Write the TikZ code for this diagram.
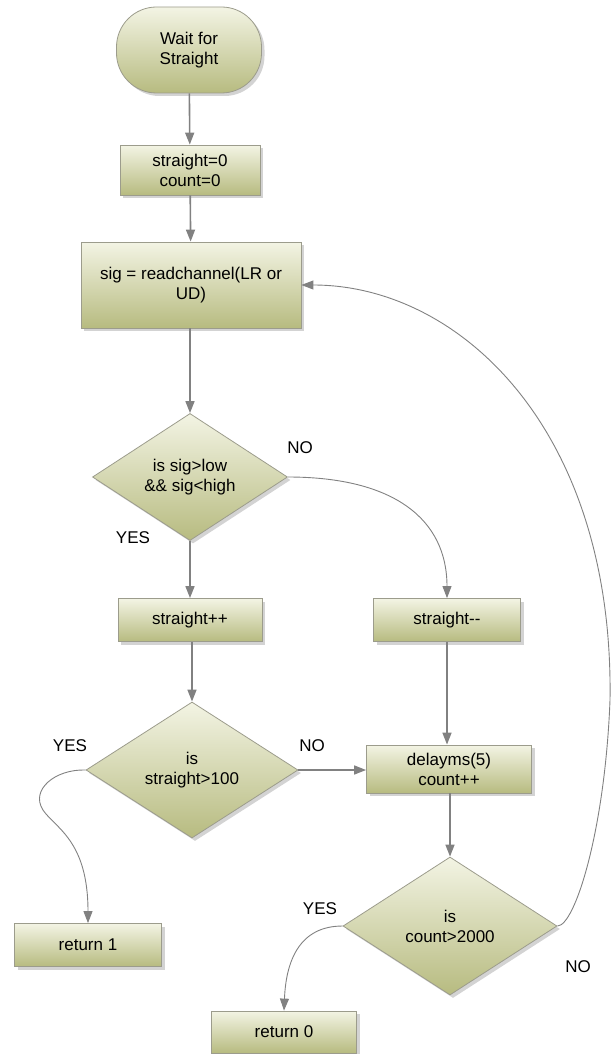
\documentclass[tikz,border=0pt]{standalone}
\usepackage{fontspec}
\setmainfont{Liberation Sans}
\usetikzlibrary{shapes.geometric,shadows,arrows.meta}
\definecolor{fillTop}{HTML}{F3F4E4}
\definecolor{fillBot}{HTML}{B7BB80}
\definecolor{edgeC}{HTML}{9C9C8C}
\definecolor{lineC}{HTML}{818181}
\begin{document}
\begin{tikzpicture}[x=1pt,y=-1pt,
  base/.style={draw=edgeC, line width=0.8pt, top color=fillTop, bottom color=fillBot,
    drop shadow={opacity=0.35, shadow xshift=3pt, shadow yshift=-3pt},
    font=\fontsize{17}{20}\selectfont, align=center, inner sep=2pt},
  proc/.style={base, rectangle},
  term/.style={base, rectangle, rounded corners=40pt},
  decis/.style={base, diamond, inner sep=0pt},
  lbl/.style={font=\fontsize{17}{20}\selectfont},
  flow/.style={draw=lineC, line width=1.6pt, -{Triangle[length=12pt,width=9pt]}},
  curv/.style={draw=lineC, line width=0.9pt, -{Triangle[length=12pt,width=9pt]}}
]
\useasboundingbox (0,0) rectangle (613,1054);

\node[term, minimum width=145pt, minimum height=86pt] (start) at (189,50) {Wait for\\Straight};
\node[proc, minimum width=140pt, minimum height=50pt] (init) at (190,170) {straight=0\\count=0};
\node[proc, minimum width=220pt, minimum height=86pt] (read) at (191,285) {sig = readchannel(LR or\\UD)};
\node[decis, minimum width=195pt, minimum height=115pt] (dia1) at (190,477) {is sig>low\\\&\& sig<high};
\node[proc, minimum width=144pt, minimum height=43pt] (inc) at (190,620) {straight++};
\node[proc, minimum width=147pt, minimum height=43pt] (dec) at (447,620) {straight-{}-};
\node[decis, minimum width=212pt, minimum height=136pt] (dia2) at (192,770) {is\\straight>100};
\node[proc, minimum width=165pt, minimum height=48pt] (delay) at (449,769) {delayms(5)\\count++};
\node[decis, minimum width=214pt, minimum height=138pt] (dia3) at (450,926) {is\\count>2000};
\node[proc, minimum width=147pt, minimum height=43pt] (ret1) at (88,945) {return 1};
\node[proc, minimum width=145pt, minimum height=42pt] (ret0) at (284,1032) {return 0};

\node[lbl] (no1) at (300,448) {NO};
\node[lbl] (yes1) at (133,538) {YES};
\node[lbl] (yes2) at (70,746) {YES};
\node[lbl] (no2) at (312,746) {NO};
\node[lbl] (yes3) at (320,909) {YES};
\node[lbl] (no3) at (578,967) {NO};

\draw[flow] (start) -- (init);
\draw[flow] (init) -- (read);
\draw[flow] (read.south -| dia1.north) -- (dia1.north);
\draw[flow] (dia1.south) -- (inc.north);
\draw[flow] (inc.south -| dia2.north) -- (dia2.north);
\draw[flow] (dec.south) -- (dec.south |- delay.north);
\draw[flow] (delay.south -| dia3.north) -- (dia3.north);
\draw[flow] (dia2.east) -- (dia2.east -| delay.west);

\draw[curv] (dia1.east) .. controls (395,477) and (447,520) .. (dec.north);
\draw[curv] (dia2.west) .. controls (55,769) and (30,790) .. (43,810)
  .. controls (55,828) and (88,840) .. (ret1.north);
\draw[curv] (dia3.west) .. controls (300,926) and (286,960) .. (ret0.north);
\draw[curv] (dia3.east) .. controls (575,926) and (605,830) .. (610,700)
  .. controls (614,430) and (460,285) .. (read.east);
\end{tikzpicture}
\end{document}
